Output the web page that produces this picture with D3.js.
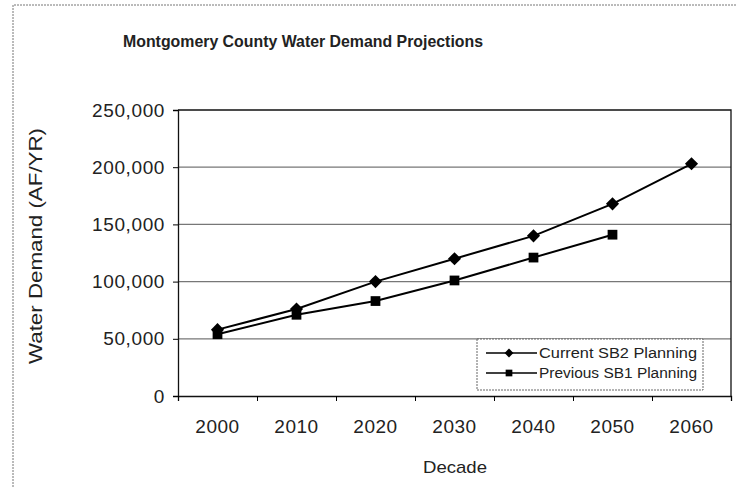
<!DOCTYPE html>
<html>
<head>
<meta charset="utf-8">
<script src="https://cdn.jsdelivr.net/npm/d3@7"></script>
<style>
  body { margin: 0; background: #fff; }
  svg text { font-family: "Liberation Sans", Arial, sans-serif; fill: #222; }
</style>
</head>
<body>
<div id="chart"></div>
<script>
// Datos
const decades = ['2000', '2010', '2020', '2030', '2040', '2050', '2060'];
const currentSB2 = [58000, 76000, 100000, 120000, 140000, 168000, 203000];
const previousSB1 = [54000, 71000, 83000, 101000, 121000, 141000];
const yTicks = [0, 50000, 100000, 150000, 200000, 250000];
const seriesNames = ['Current SB2 Planning', 'Previous SB1 Planning'];

const W = 737, H = 487;
let margin = {top: 110, right: 6, bottom: 91, left: 178},
    width = W - margin.left - margin.right,
    height = H - margin.top - margin.bottom;

let root = d3.select('#chart').append('svg')
    .attr('width', W).attr('height', H);

// Marco exterior (escaneado)
root.append('path')
    .attr('d', 'M13,487 L13,5 L737,5')
    .attr('fill', 'none').attr('stroke', '#777').attr('stroke-width', 1)
    .attr('stroke-dasharray', '2,1');

root.append('text')
    .attr('x', 303).attr('y', 47)
    .attr('text-anchor', 'middle')
    .attr('font-size', 17).attr('font-weight', 'bold')
    .attr('textLength', 360).attr('lengthAdjust', 'spacingAndGlyphs')
    .text('Montgomery County Water Demand Projections');

let svg = root.append('g')
    .attr('transform', 'translate(' + margin.left + ',' + margin.top + ')');

let x = d3.scaleBand().domain(decades).range([0, width]).padding(0);
let xEdges = d3.scaleLinear().domain([0, decades.length]).range([0, width]);
let y = d3.scaleLinear().domain([0, 250000]).range([height, 0]);

// Rejilla
svg.append('g')
    .selectAll('line')
    .data(yTicks.filter(d => d > 0 && d < 250000))
    .enter().append('line')
    .attr('x1', 0).attr('x2', width)
    .attr('y1', d => y(d)).attr('y2', d => y(d))
    .attr('stroke', '#777').attr('stroke-width', 1.2);

// Borde superior y derecho
svg.append('path')
    .attr('d', 'M0,0 H' + width + ' V' + height)
    .attr('fill', 'none').attr('stroke', '#111').attr('stroke-width', 1.3);

// Eje Y
let yAxis = svg.append('g')
    .call(d3.axisLeft(y).tickValues(yTicks).tickSize(5).tickPadding(8)
        .tickFormat(d3.format(',')));
yAxis.select('.domain').attr('stroke', '#111').attr('stroke-width', 1.3);
yAxis.selectAll('text').attr('font-size', 19).attr('letter-spacing', 0.6);

// Eje X: marcas en los límites, etiquetas centradas
let xTicks = svg.append('g')
    .attr('transform', 'translate(0,' + height + ')')
    .call(d3.axisBottom(xEdges).tickValues(d3.range(decades.length + 1)).tickSize(5).tickFormat(''));
xTicks.select('.domain').attr('stroke', '#111').attr('stroke-width', 1.3);

let xAxis = svg.append('g')
    .attr('transform', 'translate(0,' + height + ')')
    .call(d3.axisBottom(x).tickSize(0).tickPadding(24));
xAxis.select('.domain').remove();
xAxis.selectAll('text').attr('font-size', 19).attr('letter-spacing', 0.5);

// Títulos de ejes
root.append('text')
    .attr('x', 455).attr('y', 473)
    .attr('text-anchor', 'middle').attr('font-size', 17)
    .attr('textLength', 64).attr('lengthAdjust', 'spacingAndGlyphs')
    .text('Decade');

root.append('text')
    .attr('transform', 'translate(42,246) rotate(-90)')
    .attr('text-anchor', 'middle').attr('font-size', 19)
    .attr('textLength', 236).attr('lengthAdjust', 'spacingAndGlyphs')
    .text('Water Demand (AF/YR)');

// Series
const cx = d => x(d) + x.bandwidth() / 2;
let line = d3.line().x(d => cx(d.k)).y(d => y(d.v));

let curData = decades.map((k, i) => ({k: k, v: currentSB2[i]}));
let prevData = previousSB1.map((v, i) => ({k: decades[i], v: v}));

svg.append('path').datum(prevData)
    .attr('d', line).attr('fill', 'none').attr('stroke', '#000').attr('stroke-width', 2);
svg.append('path').datum(curData)
    .attr('d', line).attr('fill', 'none').attr('stroke', '#000').attr('stroke-width', 2);

let diamond = d3.symbol().type(d3.symbolDiamond2).size(110);
let square = d3.symbol().type(d3.symbolSquare).size(95);

svg.selectAll('.sq').data(prevData).enter().append('path')
    .attr('transform', d => 'translate(' + cx(d.k) + ',' + y(d.v) + ')')
    .attr('d', square).attr('fill', '#000');
svg.selectAll('.dm').data(curData).enter().append('path')
    .attr('transform', d => 'translate(' + cx(d.k) + ',' + y(d.v) + ')')
    .attr('d', diamond).attr('fill', '#000');

// Leyenda
let lg = root.append('g').attr('transform', 'translate(477,339)');
lg.append('rect').attr('width', 226).attr('height', 51)
    .attr('fill', '#fff').attr('stroke', '#666').attr('stroke-width', 1)
    .attr('stroke-dasharray', '2,1');
[0, 1].forEach(i => {
    let ly = 14 + i * 20;
    lg.append('line').attr('x1', 9).attr('x2', 60).attr('y1', ly).attr('y2', ly)
        .attr('stroke', '#000').attr('stroke-width', 1.5);
    lg.append('path').attr('transform', 'translate(32,' + ly + ')')
        .attr('d', i === 0 ? d3.symbol().type(d3.symbolDiamond2).size(50) : d3.symbol().type(d3.symbolSquare).size(45))
        .attr('fill', '#000');
    lg.append('text').attr('x', 62).attr('y', ly + 5)
        .attr('font-size', 14).attr('textLength', 158).attr('lengthAdjust', 'spacingAndGlyphs')
        .text(seriesNames[i]);
});
</script>
</body>
</html>
